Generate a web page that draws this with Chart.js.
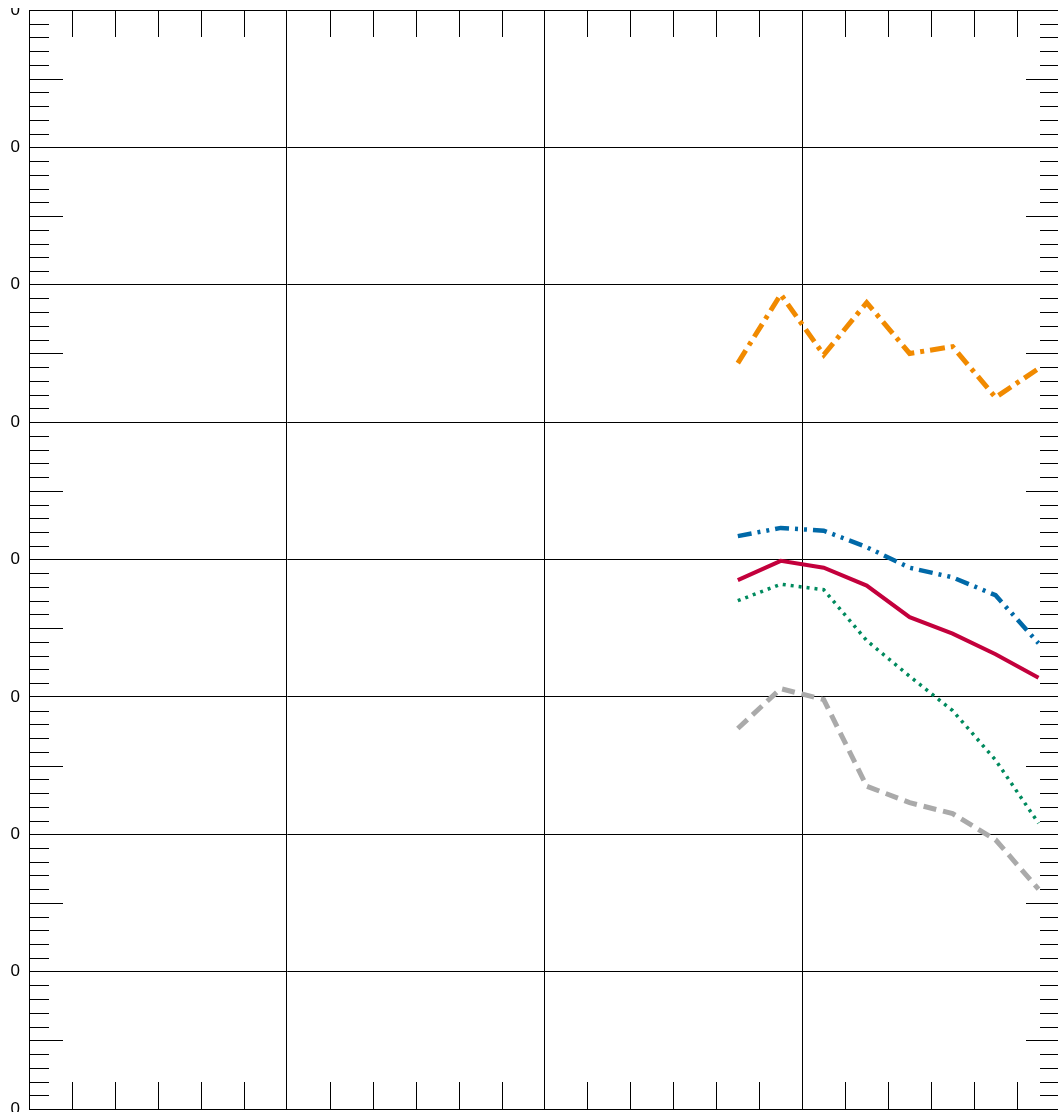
<!DOCTYPE html>
<html>
<head>
<meta charset="utf-8">
<script src="https://cdn.jsdelivr.net/npm/chart.js@4"></script>
<style>
html,body{margin:0;padding:0;overflow:hidden;background:#fff}
body{width:1058px;height:1112px;position:relative}
#chart{position:absolute;left:8px;top:8px}
</style>
</head>
<body>
<canvas id="chart" width="1052" height="1110"></canvas>
<script>
// x positions (axis runs 0..24, points sit mid-step)
const xValues = [16.5, 17.5, 18.5, 19.5, 20.5, 21.5, 22.5, 23.5];

const orangeSeries = [54.3, 59.3, 54.9, 58.7, 55.0, 55.5, 51.8, 53.9];
const blueSeries   = [41.7, 42.3, 42.1, 40.9, 39.4, 38.7, 37.4, 33.9];
const redSeries    = [38.5, 39.9, 39.4, 38.1, 35.8, 34.6, 33.1, 31.4];
const greenSeries  = [37.0, 38.2, 37.8, 34.1, 31.5, 29.0, 25.4, 20.8];
const graySeries   = [27.7, 30.6, 29.8, 23.5, 22.3, 21.5, 19.6, 16.0];

const yTickLabels = ['0', '0', '0', '0', '0', '0', '0', '0', '0'];

const pts = arr => arr.map((v, i) => ({ x: xValues[i], y: v }));

// minor tick marks along all four sides
const minorTicks = {
  id: 'minorTicks',
  beforeDatasetsDraw(chart) {
    const { ctx, chartArea: a, scales: { x, y } } = chart;
    ctx.save();
    ctx.strokeStyle = '#000';
    ctx.lineWidth = 1;
    ctx.beginPath();
    for (let v = 0; v <= 80; v++) {
      if (v % 10 === 0) continue;
      const py = Math.round(y.getPixelForValue(v)) + 0.5;
      const len = v % 5 === 0 ? 34 : 20;
      ctx.moveTo(a.left, py); ctx.lineTo(a.left + len, py);
      ctx.moveTo(a.right, py); ctx.lineTo(a.right - len, py);
    }
    for (let v = 0; v <= 24; v++) {
      if (v % 6 === 0) continue;
      const px = Math.round(x.getPixelForValue(v)) + 0.5;
      ctx.moveTo(px, a.top); ctx.lineTo(px, a.top + 27);
      ctx.moveTo(px, a.bottom); ctx.lineTo(px, a.bottom - 27);
    }
    ctx.stroke();
    ctx.restore();
  }
};

const line = (data, color, width, dash) => ({
  data: pts(data),
  borderColor: color,
  borderWidth: width,
  borderDash: dash,
  borderCapStyle: 'butt',
  pointRadius: 0,
  tension: 0,
  fill: false
});

new Chart(document.getElementById('chart'), {
  type: 'line',
  data: {
    datasets: [
      line(orangeSeries, '#f18a00', 5, [15, 6, 4, 6]),
      line(blueSeries, '#0069a8', 4.5, [14, 6, 3, 6, 3, 6]),
      line(redSeries, '#c3003c', 4, []),
      line(greenSeries, '#008a5e', 3.5, [3, 5]),
      line(graySeries, '#aaaaaa', 5, [13, 7])
    ]
  },
  options: {
    responsive: false,
    animation: false,
    layout: { padding: { top: 2, right: 0, bottom: 0, left: 0 } },
    plugins: { legend: { display: false }, tooltip: { enabled: false } },
    scales: {
      x: {
        type: 'linear',
        min: 0,
        max: 24,
        ticks: { display: false, stepSize: 6 },
        grid: { color: '#000', lineWidth: 1, drawTicks: false },
        border: { color: '#000' },
        afterFit(s) { s.height = 9; s.paddingLeft = 0; s.paddingRight = 0; }
      },
      y: {
        type: 'linear',
        min: 0,
        max: 80,
        ticks: {
          stepSize: 10,
          padding: 9,
          color: '#000',
          font: { family: 'Liberation Sans', size: 17 },
          callback: (v, i) => yTickLabels[i]
        },
        grid: { color: '#000', lineWidth: 1, drawTicks: false },
        border: { color: '#000' },
        afterFit(s) { s.width = 21; s.paddingTop = 0; s.paddingBottom = 0; }
      }
    }
  },
  plugins: [minorTicks]
});
</script>
</body>
</html>
